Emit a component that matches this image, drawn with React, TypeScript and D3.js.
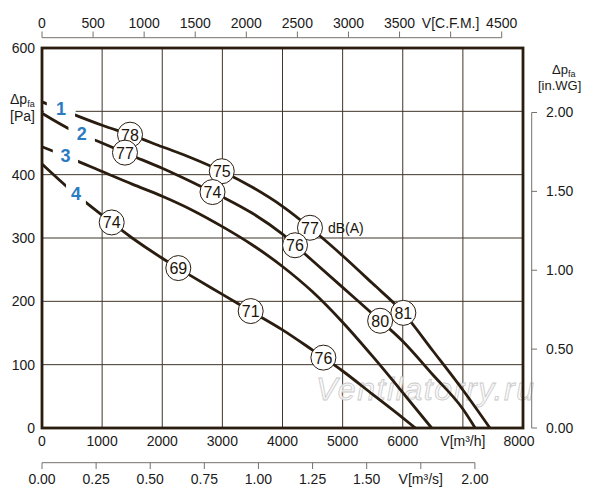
import { useEffect, useRef } from "react"
import * as d3 from "d3"

type Pt = [number, number]

// fan curves, flow [m3/h] vs static pressure [Pa]
const curve1: Pt[] = [[0, 515], [500, 496], [1000, 478], [1500, 462], [2000, 444], [2500, 426], [3000, 405], [3500, 380], [4000, 350], [4500, 313], [5000, 272], [5500, 228], [6000, 183], [6500, 122], [7000, 60], [7450, 0]]
const curve2: Pt[] = [[0, 497], [500, 470], [1000, 450], [1500, 430], [2000, 410], [2500, 388], [3000, 365], [3500, 339], [4000, 306], [4500, 264], [5000, 222], [5500, 180], [6000, 137], [6500, 84], [7000, 30], [7205, 0]]
const curve3: Pt[] = [[0, 444], [500, 425], [1000, 405], [1500, 385], [2000, 366], [2500, 344], [3000, 318], [3500, 289], [4000, 255], [4500, 215], [5000, 167], [5500, 113], [6000, 56], [6481, 0]]
const curve4: Pt[] = [[0, 417], [500, 374], [1000, 336], [1500, 300], [2000, 268], [2500, 239], [3000, 211], [3500, 183], [4000, 155], [4500, 123], [5000, 90], [5500, 53], [6000, 16], [6210, 0]]

const curves = [curve1, curve2, curve3, curve4]
const curveNames = ["1", "2", "3", "4"]
// flow range where the curve is broken for its number
const curveGaps: Pt[] = [[80, 550], [440, 880], [180, 600], [400, 730]]

// sound level circles: flow [m3/h], dB(A)
const noise1: Pt[] = [[1464, 78], [2990, 75], [4457, 77], [6010, 81]]
const noise2: Pt[] = [[1380, 77], [2836, 74], [4208, 76], [5624, 80]]
const noise4: Pt[] = [[1159, 74], [2267, 69], [3471, 71], [4680, 76]]
const noiseSets: [Pt[], number][] = [[noise1, 0], [noise2, 1], [noise4, 3]]

const flowTicks = [0, 1000, 2000, 3000, 4000, 5000, 6000, 7000, 8000]
const flowLabels = ["0", "1000", "2000", "3000", "4000", "5000", "6000", "V[m³/h]", "8000"]
const paTicks = [0, 100, 200, 300, 400, 500, 600]
const paLabels = ["0", "100", "200", "300", "400", "", "600"]
const cfmTicks = [0, 500, 1000, 1500, 2000, 2500, 3000, 3500, 4000, 4500]
const cfmLabels = ["0", "500", "1000", "1500", "2000", "2500", "3000", "3500", "V[C.F.M.]", "4500"]
const m3sTicks = [0, 0.25, 0.5, 0.75, 1, 1.25, 1.5, 1.75, 2]
const m3sLabels = ["0.00", "0.25", "0.50", "0.75", "1.00", "1.25", "1.50", "V[m³/s]", "2.00"]
const inwgTicks = [0, 0.5, 1, 1.5, 2]
const inwgLabels = ["0.00", "0.50", "1.00", "1.50", "2.00"]

const CFM = 1.699 // m3/h per cfm
const INWG = 249.09 // Pa per in.WG

const ink = "#2a1d10"
const font = "'Liberation Sans', Arial, sans-serif"

const App = () => {
  const svgRef = useRef<SVGSVGElement | null>(null)

  useEffect(() => {
    const width = 600
    const height = 500
    const left = 42, right = 523, top = 48, bottom = 428

    const x = d3.scaleLinear().domain([0, 8000]).range([left, right])
    const y = d3.scaleLinear().domain([0, 600]).range([bottom, top])

    const svg = d3.select(svgRef.current)
      .attr("width", width)
      .attr("height", height)
    svg.selectAll("*").remove()

    svg.append("rect").attr("width", width).attr("height", height).attr("fill", "#fff")

    // grid
    const grid = svg.append("g").attr("stroke", "#3f3528").attr("stroke-width", 1)
    grid.selectAll("line.v").data(flowTicks.slice(1, -1)).enter().append("line")
      .attr("x1", d => x(d)).attr("x2", d => x(d)).attr("y1", top).attr("y2", bottom)
    grid.selectAll("line.h").data(paTicks.slice(1, -1)).enter().append("line")
      .attr("class", "h")
      .attr("x1", left).attr("x2", right).attr("y1", d => y(d)).attr("y2", d => y(d))

    // watermark
    svg.append("text")
      .attr("x", 316).attr("y", 400)
      .attr("font-family", font).attr("font-style", "italic")
      .attr("font-size", 32).attr("textLength", 218)
      .attr("fill", "#fafafa").attr("fill-opacity", 0.85)
      .attr("stroke", "#c9c9c9").attr("stroke-width", 0.8)
      .text("Ventilatorry.ru")

    // white patch behind curve number 1 (hides the grid line there)
    svg.append("rect")
      .attr("x", left + 2).attr("y", y(500) - 8)
      .attr("width", x(560) - left - 2).attr("height", 14)
      .attr("fill", "#fff")

    const line = d3.line<Pt>()
      .x(d => x(d[0]))
      .y(d => y(d[1]))
      .curve(d3.curveMonotoneX)

    const defs = svg.append("defs")
    curves.forEach((c, i) => {
      const gap = curveGaps[i]
      const clip = defs.append("clipPath").attr("id", `clip${i}`)
      clip.append("rect").attr("x", 0).attr("y", 0).attr("width", x(gap[0])).attr("height", height)
      clip.append("rect").attr("x", x(gap[1])).attr("y", 0).attr("width", width - x(gap[1])).attr("height", height)

      svg.append("path")
        .attr("d", line(c))
        .attr("fill", "none")
        .attr("stroke", ink)
        .attr("stroke-width", 2.8)
        .attr("clip-path", `url(#clip${i})`)
    })

    const curveY = (c: Pt[], f: number) =>
      d3.scaleLinear().domain(c.map(d => d[0])).range(c.map(d => d[1]))(f)

    // curve numbers
    curves.forEach((c, i) => {
      const f = (curveGaps[i][0] + curveGaps[i][1]) / 2
      svg.append("text")
        .attr("x", x(f)).attr("y", y(curveY(c, f)))
        .attr("text-anchor", "middle").attr("dominant-baseline", "central")
        .attr("font-family", font).attr("font-weight", "bold").attr("font-size", 18)
        .attr("fill", "#2b7bc2")
        .text(curveNames[i])
    })

    // sound level circles
    noiseSets.forEach(([set, ci]) => {
      const g = svg.append("g")
      set.forEach(([f, db]) => {
        const cx = x(f), cy = y(curveY(curves[ci], f))
        g.append("circle").attr("cx", cx).attr("cy", cy).attr("r", 12.5)
          .attr("fill", "#fff").attr("stroke", ink).attr("stroke-width", 1)
        g.append("text").attr("x", cx).attr("y", cy + 0.5)
          .attr("text-anchor", "middle").attr("dominant-baseline", "central")
          .attr("font-family", font).attr("font-size", 16).attr("fill", "#1c140a")
          .text(db)
      })
    })
    const dbRef = noise1[2][0]
    svg.append("text")
      .attr("x", x(dbRef) + 18).attr("y", y(curveY(curve1, dbRef)))
      .attr("dominant-baseline", "central")
      .attr("font-family", font).attr("font-size", 14).attr("fill", "#1c140a")
      .text("dB(A)")

    // frame
    svg.append("rect")
      .attr("x", left).attr("y", top).attr("width", right - left).attr("height", bottom - top)
      .attr("fill", "none").attr("stroke", ink).attr("stroke-width", 2.8)

    const txt = svg.append("g").attr("font-family", font).attr("font-size", 14).attr("fill", "#1a1a1a")

    // left axis labels
    txt.selectAll("text.pa").data(paTicks).enter().append("text")
      .attr("x", 35).attr("y", d => y(d) + 5)
      .attr("text-anchor", "end")
      .text((_, i) => paLabels[i])
    const lh = txt.append("text").attr("x", 10).attr("y", 104)
    lh.append("tspan").text("Δp")
    lh.append("tspan").attr("font-size", 9).attr("dy", 3).text("fa")
    txt.append("text").attr("x", 10).attr("y", 121).text("[Pa]")

    // bottom m3/h labels
    txt.selectAll("text.fl").data(flowTicks).enter().append("text")
      .attr("x", d => x(d) - (d === 8000 ? 4 : 0)).attr("y", 446)
      .attr("text-anchor", "middle")
      .text((_, i) => flowLabels[i])

    // top cfm axis
    const xc = (v: number) => x(v * CFM)
    const topAx = svg.append("g").attr("stroke", "#77716a").attr("stroke-width", 1)
    topAx.append("line").attr("x1", xc(0)).attr("x2", xc(4500)).attr("y1", 37.7).attr("y2", 37.7)
    topAx.selectAll("line.t").data(cfmTicks).enter().append("line")
      .attr("x1", d => xc(d)).attr("x2", d => xc(d)).attr("y1", 31.5).attr("y2", 37.7)
    txt.selectAll("text.cfm").data(cfmTicks).enter().append("text")
      .attr("x", d => xc(d)).attr("y", 28)
      .attr("text-anchor", "middle")
      .text((_, i) => cfmLabels[i])

    // bottom m3/s axis
    const xs = (v: number) => x(v * 3600)
    const botAx = svg.append("g").attr("stroke", "#77716a").attr("stroke-width", 1)
    botAx.append("line").attr("x1", xs(0)).attr("x2", xs(2)).attr("y1", 462.7).attr("y2", 462.7)
    botAx.selectAll("line.t").data(m3sTicks).enter().append("line")
      .attr("x1", d => xs(d)).attr("x2", d => xs(d)).attr("y1", 462.7).attr("y2", 469)
    txt.selectAll("text.ms").data(m3sTicks).enter().append("text")
      .attr("x", d => xs(d)).attr("y", 484)
      .attr("text-anchor", "middle")
      .text((_, i) => m3sLabels[i])

    // right in.WG axis
    const yw = (v: number) => y(v * INWG)
    const rAx = svg.append("g").attr("stroke", "#77716a").attr("stroke-width", 1)
    rAx.append("line").attr("x1", 531.7).attr("x2", 531.7).attr("y1", yw(2)).attr("y2", yw(0))
    rAx.selectAll("line.t").data(inwgTicks).enter().append("line")
      .attr("x1", 531.7).attr("x2", 537).attr("y1", d => yw(d)).attr("y2", d => yw(d))
    txt.selectAll("text.wg").data(inwgTicks).enter().append("text")
      .attr("x", 546).attr("y", d => yw(d) + 5)
      .text((_, i) => inwgLabels[i])
    const rh = txt.append("text").attr("x", 552).attr("y", 74).attr("font-size", 13)
    rh.append("tspan").text("Δp")
    rh.append("tspan").attr("font-size", 9).attr("dy", 3).text("fa")
    txt.append("text").attr("x", 538).attr("y", 90).attr("font-size", 13).text("[in.WG]")
  }, [])

  return <svg ref={svgRef} style={{ position: "absolute", left: 0, top: 0 }}></svg>
}

export default App
